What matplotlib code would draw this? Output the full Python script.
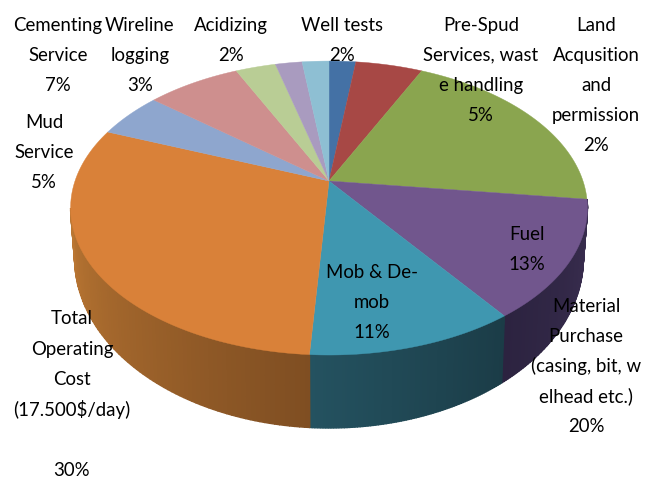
import numpy as np
import matplotlib
matplotlib.use('Agg')
import matplotlib.pyplot as plt
from matplotlib.colors import to_rgb

# share of each slice, clockwise from 12 o'clock
names = ['Pre-Spud', 'Land', 'Material', 'Fuel', 'Mob', 'Total', 'Mud',
         'Cementing', 'Wireline', 'Acidizing', 'Well tests']
values = [2, 5, 20, 13, 11, 30, 5, 7, 3, 2, 2]
colors = ['#4471A5', '#A74845', '#8AA54F', '#71568D', '#3F97B0', '#D98139',
          '#8EA6CE', '#CE8F8E', '#B9CD95', '#A99BBF', '#8EBFD3']

# side wall colours per slice (at start angle, at end angle)
side_colors = {2: ('#3A2F50', '#3A2F50'),
               3: ('#3A2E50', '#2C2340'),
               4: ('#1B3C47', '#245260'),
               5: ('#7F4E22', '#BB7733')}

# label text, x centre, y of first line
labels = [
    (['Cementing', 'Service', '7%'], 58, 25),
    (['Wireline', 'logging', '3%'], 140, 25),
    (['Acidizing', '2%'], 231, 25),
    (['Well tests', '2%'], 342, 25),
    (['Pre-Spud', 'Services, wast', 'e handling', '5%'], 481, 25),
    (['Land', 'Acqusition', 'and', 'permission', '2%'], 596, 25),
    (['Mud', 'Service', '5%'], 44, 122),
    (['Fuel', '13%'], 527, 234),
    (['Mob & De-', 'mob', '11%'], 372, 272),
    (['Material', 'Purchase', '(casing, bit, w', 'elhead etc.)', '20%'], 586, 306),
    (['Total', 'Operating', 'Cost', '(17.500$/day)', '', '30%'], 72, 319),
]

cx, cy = 329, 181
A, B, k = 254, 142, 0.184
# lower rim of the disc
A2, B2, cy2 = 250, 164, 227


def project(theta, a=A, b=B, y0=cy):
    X = np.sin(theta)
    Y = np.cos(theta)
    w = 1 + k * Y
    return cx + a * X / w, y0 - b * Y / w


fig = plt.figure(figsize=(6.57, 4.78), dpi=100)
ax = fig.add_axes([0, 0, 1, 1])
ax.set_xlim(0, 657)
ax.set_ylim(478, 0)
ax.axis('off')

edges = np.radians(np.cumsum([0] + values) * 3.6)
tangent = np.arccos(-k)

# side wall, drawn as thin strips to get the shading
for i, (c0, c1) in side_colors.items():
    t0 = max(edges[i], tangent)
    t1 = min(edges[i + 1], 2 * np.pi - tangent)
    n = 80
    steps = np.linspace(t0, t1, n + 1)
    for j in range(n):
        f = j / (n - 1)
        col = (1 - f) * np.array(to_rgb(c0)) + f * np.array(to_rgb(c1))
        t = np.linspace(steps[j], steps[j + 1], 3)
        x1, y1 = project(t)
        x2, y2 = project(t[::-1], A2, B2, cy2)
        ax.fill(np.r_[x1, x2], np.r_[y1, y2], color=col, lw=1.0, zorder=2)

# top face
for i, col in enumerate(colors):
    t = np.linspace(edges[i], edges[i + 1], 80)
    x, y = project(t)
    ax.fill(np.r_[cx, x], np.r_[cy, y], color=col, lw=0.3, zorder=3)

for lines, x, y in labels:
    for n, line in enumerate(lines):
        ax.text(x, y + n * 30.2, line, ha='center', va='center', fontsize=13.4,
                family='Lato', color='black', zorder=5)

plt.savefig('out.png', dpi=100)
